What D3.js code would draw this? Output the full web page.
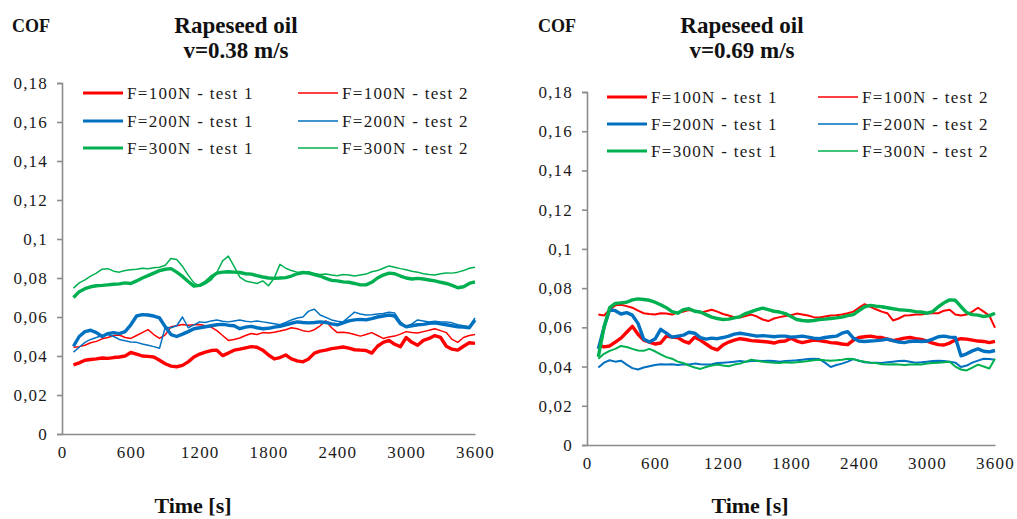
<!DOCTYPE html>
<html><head><meta charset="utf-8">
<script src="https://cdn.jsdelivr.net/npm/d3@7"></script>
<style>
body{margin:0;background:#fff;}
svg text{font-family:"Liberation Serif","Times New Roman",serif;}
</style></head><body>
<svg id="c" width="1017" height="519"></svg>
<script>
// ---- data ----
const times = [100,150,200,250,300,350,400,450,500,550,
600,650,700,750,800,850,900,950,1000,1050,
1100,1150,1200,1250,1300,1350,1400,1450,1500,1550,
1600,1650,1700,1750,1800,1850,1900,1950,2000,2050,
2100,2150,2200,2250,2300,2350,2400,2450,2500,2550,
2600,2650,2700,2750,2800,2850,2900,2950,3000,3050,
3100,3150,3200,3250,3300,3350,3400,3450,3500,3550,3600];

const xTicks = [0,600,1200,1800,2400,3000,3600];
const yTicks = [0,0.02,0.04,0.06,0.08,0.1,0.12,0.14,0.16,0.18];
const seriesNames = ["F=100N - test 1","F=100N - test 2","F=200N - test 1","F=200N - test 2","F=300N - test 1","F=300N - test 2"];
const panelTitles = ["v=0.38 m/s","v=0.69 m/s"];

// v = 0.38 m/s
const L_r1 = [.0355,.0365,.0378,.0382,.0385,.0390,.0388,.0392,.0395,.0400,
.0418,.0410,.0400,.0398,.0395,.0378,.0360,.0348,.0345,.0352,
.0370,.0395,.0410,.0420,.0428,.0430,.0402,.0415,.0430,.0435,
.0442,.0448,.0445,.0430,.0405,.0385,.0392,.0405,.0385,.0375,
.0370,.0385,.0415,.0425,.0430,.0438,.0442,.0446,.0440,.0432,
.0430,.0428,.0415,.0450,.0470,.0480,.0460,.0448,.0495,.0470,
.0455,.0480,.0490,.0505,.0495,.0450,.0435,.0430,.0450,.0468,.0465];
const L_r2 = [.0445,.0448,.0455,.0468,.0475,.0488,.0495,.0505,.0508,.0495,
.0490,.0505,.0520,.0535,.0510,.0490,.0508,.0550,.0555,.0562,
.0558,.0560,.0562,.0555,.0548,.0530,.0505,.0480,.0485,.0492,
.0505,.0515,.0510,.0520,.0518,.0522,.0528,.0535,.0545,.0540,
.0530,.0525,.0535,.0555,.0580,.0545,.0520,.0522,.0518,.0510,
.0502,.0510,.0520,.0505,.0490,.0498,.0502,.0512,.0525,.0520,
.0518,.0525,.0532,.0540,.0530,.0520,.0485,.0470,.0495,.0505,.0510];
const L_b1 = [.0450,.0500,.0525,.0532,.0520,.0500,.0515,.0520,.0515,.0525,
.0560,.0605,.0612,.0610,.0605,.0595,.0550,.0510,.0500,.0512,
.0525,.0540,.0545,.0550,.0555,.0560,.0562,.0558,.0555,.0540,
.0548,.0552,.0545,.0540,.0542,.0548,.0552,.0560,.0568,.0575,
.0572,.0570,.0572,.0575,.0572,.0565,.0560,.0570,.0580,.0585,
.0588,.0585,.0592,.0600,.0605,.0610,.0605,.0565,.0550,.0555,
.0560,.0562,.0568,.0570,.0565,.0560,.0555,.0550,.0548,.0545,.0585];
const L_b2 = [.0420,.0445,.0470,.0485,.0495,.0505,.0510,.0500,.0485,.0478,
.0472,.0470,.0462,.0455,.0448,.0440,.0548,.0545,.0555,.0600,
.0545,.0560,.0575,.0572,.0580,.0585,.0578,.0575,.0580,.0585,
.0578,.0575,.0580,.0575,.0570,.0565,.0560,.0572,.0585,.0595,
.0600,.0630,.0640,.0610,.0598,.0585,.0578,.0575,.0600,.0625,
.0615,.0610,.0612,.0615,.0618,.0625,.0620,.0575,.0550,.0565,
.0585,.0580,.0575,.0578,.0575,.0575,.0570,.0560,.0555,.0550,.0595];
const L_g1 = [.0700,.0730,.0745,.0755,.0760,.0762,.0765,.0768,.0770,.0775,
.0772,.0785,.0800,.0812,.0825,.0838,.0845,.0848,.0830,.0808,
.0782,.0758,.0762,.0778,.0805,.0825,.0830,.0832,.0830,.0828,
.0822,.0820,.0812,.0805,.0800,.0798,.0800,.0802,.0810,.0822,
.0828,.0825,.0818,.0810,.0798,.0788,.0785,.0780,.0778,.0772,
.0765,.0765,.0778,.0800,.0815,.0825,.0822,.0810,.0800,.0795,
.0798,.0795,.0790,.0785,.0778,.0772,.0762,.0750,.0755,.0772,.0780];
const L_g2 = [.0748,.0775,.0790,.0810,.0825,.0845,.0848,.0835,.0830,.0838,
.0842,.0845,.0850,.0848,.0852,.0855,.0865,.0900,.0895,.0860,
.0815,.0775,.0758,.0770,.0790,.0828,.0888,.0912,.0860,.0805,
.0785,.0778,.0772,.0785,.0760,.0800,.0870,.0850,.0838,.0830,
.0828,.0832,.0822,.0818,.0820,.0815,.0812,.0818,.0815,.0810,
.0815,.0820,.0832,.0838,.0850,.0862,.0855,.0848,.0842,.0835,
.0830,.0822,.0818,.0815,.0822,.0826,.0825,.0830,.0838,.0850,.0855];

// v = 0.69 m/s
const R_r1 = [.0510,.0500,.0505,.0525,.0545,.0575,.0605,.0565,.0535,.0525,
.0515,.0520,.0555,.0550,.0548,.0530,.0520,.0550,.0535,.0515,
.0495,.0485,.0510,.0525,.0535,.0542,.0538,.0532,.0530,.0528,
.0525,.0520,.0528,.0530,.0545,.0530,.0522,.0528,.0535,.0532,
.0528,.0522,.0520,.0515,.0512,.0535,.0548,.0552,.0555,.0550,
.0548,.0540,.0532,.0538,.0545,.0548,.0542,.0538,.0530,.0520,
.0512,.0510,.0520,.0535,.0542,.0540,.0535,.0530,.0528,.0522,.0528];
const R_r2 = [.0665,.0660,.0690,.0712,.0715,.0708,.0700,.0685,.0672,.0668,
.0665,.0672,.0670,.0665,.0675,.0680,.0688,.0685,.0675,.0682,
.0690,.0680,.0668,.0660,.0652,.0650,.0658,.0665,.0655,.0640,
.0632,.0645,.0652,.0658,.0662,.0670,.0665,.0660,.0652,.0650,
.0655,.0660,.0662,.0665,.0672,.0680,.0700,.0718,.0705,.0692,
.0680,.0672,.0635,.0645,.0660,.0662,.0665,.0665,.0670,.0672,
.0672,.0685,.0690,.0665,.0660,.0665,.0680,.0700,.0680,.0660,.0598];
const R_b1 = [.0490,.0600,.0690,.0685,.0668,.0675,.0662,.0620,.0540,.0525,
.0540,.0590,.0570,.0550,.0555,.0560,.0575,.0570,.0548,.0540,
.0545,.0542,.0548,.0555,.0565,.0570,.0565,.0560,.0555,.0558,
.0555,.0552,.0555,.0555,.0550,.0552,.0555,.0550,.0545,.0542,
.0548,.0552,.0555,.0570,.0578,.0545,.0530,.0528,.0530,.0532,
.0535,.0540,.0532,.0525,.0522,.0528,.0530,.0528,.0530,.0540,
.0552,.0555,.0550,.0548,.0455,.0465,.0480,.0490,.0478,.0475,.0482];
const R_b2 = [.0395,.0420,.0432,.0425,.0430,.0410,.0392,.0385,.0395,.0402,
.0408,.0412,.0410,.0412,.0408,.0412,.0410,.0415,.0412,.0410,
.0412,.0418,.0420,.0422,.0425,.0428,.0425,.0428,.0430,.0428,
.0430,.0428,.0425,.0428,.0430,.0432,.0435,.0438,.0440,.0438,
.0420,.0398,.0408,.0415,.0425,.0438,.0430,.0422,.0420,.0420,
.0418,.0422,.0425,.0428,.0430,.0425,.0420,.0422,.0425,.0428,
.0430,.0428,.0425,.0420,.0398,.0405,.0420,.0430,.0440,.0438,.0435];
const R_g1 = [.0450,.0600,.0700,.0722,.0725,.0728,.0740,.0745,.0742,.0738,
.0728,.0715,.0700,.0680,.0672,.0690,.0695,.0682,.0678,.0665,
.0652,.0645,.0640,.0642,.0648,.0655,.0670,.0680,.0690,.0698,
.0690,.0682,.0678,.0670,.0655,.0640,.0635,.0632,.0635,.0640,
.0642,.0645,.0648,.0652,.0660,.0665,.0685,.0705,.0712,.0708,
.0705,.0700,.0695,.0690,.0688,.0685,.0680,.0678,.0672,.0680,
.0705,.0725,.0740,.0738,.0705,.0675,.0665,.0662,.0655,.0660,.0672];
const R_g2 = [.0440,.0465,.0480,.0490,.0505,.0500,.0490,.0482,.0480,.0490,
.0478,.0462,.0448,.0440,.0425,.0418,.0405,.0395,.0388,.0398,
.0405,.0410,.0405,.0402,.0410,.0415,.0425,.0435,.0430,.0425,
.0422,.0420,.0418,.0422,.0420,.0422,.0425,.0428,.0432,.0435,
.0432,.0430,.0432,.0435,.0440,.0438,.0430,.0425,.0420,.0418,
.0412,.0410,.0412,.0410,.0408,.0410,.0412,.0410,.0415,.0418,
.0420,.0422,.0425,.0400,.0385,.0380,.0395,.0410,.0400,.0390,.0440];

// ---- styles / layout ----
const colors = ["#ff0000","#ff0000","#0070c0","#0070c0","#00b050","#00b050"];
const panels = [
  {series:[L_r1,L_r2,L_b1,L_b2,L_g1,L_g2], title:panelTitles[0],
   x0:62,x1:475,yb:434,yt:83, cofX:12, titleX:236, timeX:193,
   legRows:[93,121,148], legCols:[83,298], legLen:40,
   widths:[3.4,1.5,3.4,1.5,3.4,1.5]},
  {series:[R_r1,R_r2,R_b1,R_b2,R_g1,R_g2], title:panelTitles[1],
   x0:587,x1:995,yb:445,yt:92, cofX:538, titleX:742, timeX:750,
   legRows:[97,124,151], legCols:[607,818], legLen:40,
   widths:[3.4,2,3.4,2,3.4,2]}
];

const svg = d3.select("#c");
const axisColor = "#8c8c8c";
const fmtY = d => d === 0 ? "0" : d3.format(".2~f")(d).replace(".", ",");
const fmtX = d3.format("d");

panels.forEach(p => {
  const x = d3.scaleLinear().domain([0,3600]).range([p.x0,p.x1]);
  const y = d3.scaleLinear().domain([0,0.18]).range([p.yb,p.yt]);
  const g = svg.append("g");

  // titles
  g.append("text").attr("x",p.cofX).attr("y",32).attr("font-size",18)
    .attr("font-weight","bold").attr("fill","#111").text("COF");
  g.append("text").attr("x",p.titleX).attr("y",33).attr("text-anchor","middle")
    .attr("font-size",23).attr("font-weight","bold").attr("fill","#111").text("Rapeseed oil");
  g.append("text").attr("x",p.titleX).attr("y",58).attr("text-anchor","middle")
    .attr("font-size",23).attr("font-weight","bold").attr("fill","#111").text(p.title);
  g.append("text").attr("x",p.timeX).attr("y",513).attr("text-anchor","middle")
    .attr("font-size",22).attr("font-weight","bold").attr("fill","#111").text("Time [s]");

  // axes
  const ya = g.append("g").attr("transform",`translate(${p.x0},0)`)
    .call(d3.axisLeft(y).tickValues(yTicks).tickSize(5).tickSizeOuter(5).tickPadding(9).tickFormat(fmtY));
  const xa = g.append("g").attr("transform",`translate(0,${p.yb})`)
    .call(d3.axisBottom(x).tickValues(xTicks).tickSize(0).tickSizeOuter(0).tickPadding(12).tickFormat(fmtX));
  [ya,xa].forEach(a => {
    a.select(".domain").attr("stroke",axisColor).attr("stroke-width",1.6);
    a.selectAll(".tick line").attr("stroke",axisColor).attr("stroke-width",1.6);
    a.selectAll(".tick text").attr("font-size",17).attr("fill","#1a1a1a")
      .style("letter-spacing","1.2px").attr("font-family","'Liberation Serif',serif");
  });

  // lines
  const line = d3.line().x((d,i) => x(times[i])).y(d => y(d));
  p.series.forEach((s,k) => {
    g.append("path").datum(s).attr("d",line).attr("fill","none")
      .attr("stroke",colors[k]).attr("stroke-width",p.widths[k])
      .attr("stroke-linejoin","round");
  });

  // legend
  seriesNames.forEach((name,k) => {
    const row = Math.floor(k/2), col = k%2;
    const lx = p.legCols[col], ly = p.legRows[row];
    g.append("line").attr("x1",lx).attr("x2",lx+p.legLen).attr("y1",ly).attr("y2",ly)
      .attr("stroke",colors[k]).attr("stroke-width",k%2===0?3:1.3);
    g.append("text").attr("x",lx+p.legLen+4).attr("y",ly).attr("dy","0.35em")
      .attr("font-size",17).attr("fill","#1a1a1a").style("letter-spacing","1.3px").text(name);
  });
});
</script>
</body></html>
